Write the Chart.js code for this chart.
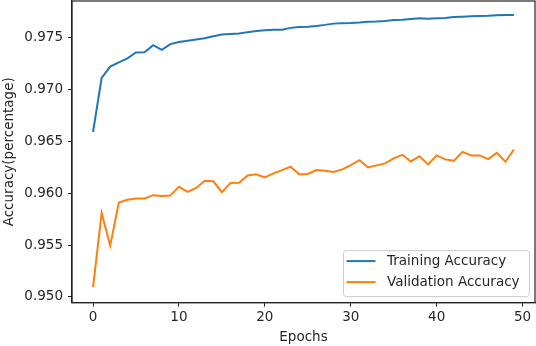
<!DOCTYPE html>
<html>
<head>
<meta charset="utf-8">
<script src="https://cdn.jsdelivr.net/npm/chart.js@4/dist/chart.umd.min.js"></script>
<style>
  html, body { margin: 0; padding: 0; background: #fff; }
  #wrap { width: 536px; height: 346px; }
</style>
</head>
<body>
<div id="wrap"><canvas id="accChart" width="536" height="346"></canvas></div>
<script>
const epochs = Array.from({length: 50}, (_, i) => i)

const trainingAccuracy = [
  0.9659, 0.9711, 0.9722, 0.9726, 0.9730, 0.97356, 0.97358, 0.97427, 0.97382, 0.97437,
  0.97456, 0.97468, 0.97481, 0.97494, 0.97513, 0.97529, 0.97535, 0.97538, 0.97552, 0.97564,
  0.97571, 0.97574, 0.97576, 0.97593, 0.97602, 0.97603, 0.97612, 0.97622, 0.97634, 0.97638,
  0.97639, 0.97644, 0.97653, 0.97654, 0.97660, 0.97670, 0.97672, 0.97679, 0.97686, 0.97682,
  0.97686, 0.97689, 0.97698, 0.97701, 0.97705, 0.97708, 0.97709, 0.97714, 0.97717, 0.97718
]

const validationAccuracy = [
  0.95096, 0.95808, 0.95495, 0.95910, 0.95936, 0.95948, 0.95949, 0.95981, 0.95974, 0.95977,
  0.96063, 0.96012, 0.96051, 0.96121, 0.96115, 0.96010, 0.96099, 0.96100, 0.96170, 0.96182,
  0.96153, 0.96191, 0.96223, 0.96255, 0.96182, 0.96185, 0.96223, 0.96216, 0.96204, 0.96230,
  0.96271, 0.96319, 0.96249, 0.96268, 0.96287, 0.96335, 0.96370, 0.96306, 0.96357, 0.96278,
  0.96364, 0.96326, 0.96312, 0.96398, 0.96364, 0.96364, 0.96329, 0.96389, 0.96303, 0.96421
]

const seriesLabels = ["Training Accuracy", "Validation Accuracy"]
const xTicks = [0, 10, 20, 30, 40, 50]
const yTicks = [0.950, 0.955, 0.960, 0.965, 0.970, 0.975]
const yTickLabels = ["0.950", "0.955", "0.960", "0.965", "0.970", "0.975"]

const FONT = "'DejaVu Sans', sans-serif"
const TEXT_COLOR = "#262626"

// frame on all four sides + matplotlib style legend in the lower right
const framePlugin = {
    id: "frame",
    afterDraw(chart){
        const {ctx, chartArea: a} = chart
        ctx.save()
        ctx.strokeStyle = "#222"
        ctx.lineWidth = 1.2
        ctx.strokeRect(a.left, a.top, a.right - a.left, a.bottom - a.top)

        const boxW = 186, boxH = 46
        const bx = a.right - 6 - boxW, by = a.bottom - 6.5 - boxH
        ctx.beginPath()
        ctx.roundRect(bx + 0.5, by + 0.5, boxW, boxH, 3)
        ctx.fillStyle = "rgba(255,255,255,0.8)"
        ctx.fill()
        ctx.strokeStyle = "#cccccc"
        ctx.lineWidth = 1
        ctx.stroke()

        ctx.font = `13.5px ${FONT}`
        ctx.textBaseline = "middle"
        ctx.textAlign = "left"
        chart.data.datasets.forEach((ds, i) => {
            const rowY = by + 11 + i * 21
            ctx.beginPath()
            ctx.moveTo(bx + 3.5, rowY)
            ctx.lineTo(bx + 32.5, rowY)
            ctx.strokeStyle = ds.borderColor
            ctx.lineWidth = 2
            ctx.stroke()
            ctx.fillStyle = TEXT_COLOR
            ctx.fillText(ds.label, bx + 44, rowY)
        })
        ctx.restore()
    }
}

const ctx = document.getElementById("accChart")
new Chart(ctx, {
    type: "line",
    data: {
        datasets: [
            {
                label: seriesLabels[0],
                data: epochs.map((e, i) => ({x: e, y: trainingAccuracy[i]})),
                borderColor: "#1f77b4",
                borderWidth: 2,
                pointRadius: 0,
                tension: 0
            },
            {
                label: seriesLabels[1],
                data: epochs.map((e, i) => ({x: e, y: validationAccuracy[i]})),
                borderColor: "#ff7f0e",
                borderWidth: 2,
                pointRadius: 0,
                tension: 0
            }
        ]
    },
    options: {
        responsive: false,
        animation: false,
        layout: { padding: { top: 1, right: 1, left: 0, bottom: 0 } },
        plugins: {
            legend: { display: false },
            tooltip: { enabled: false }
        },
        scales: {
            x: {
                type: "linear",
                min: -2.45,
                max: 51.45,
                afterBuildTicks: s => { s.ticks = xTicks.map(v => ({value: v})) },
                afterFit: s => { s.height = 43.4; s.paddingLeft = 0; s.paddingRight = 0 },
                grid: { drawOnChartArea: false, drawTicks: true, tickLength: 4, tickColor: "#222", tickWidth: 1 },
                border: { display: true, color: "#222", width: 1.2 },
                ticks: {
                    font: { family: FONT, size: 13.5 },
                    color: TEXT_COLOR,
                    padding: 3,
                    maxRotation: 0,
                    callback: v => String(v)
                },
                title: {
                    display: true,
                    text: "Epochs",
                    font: { family: FONT, size: 13.5 },
                    color: TEXT_COLOR,
                    padding: { top: 0, bottom: 0 }
                }
            },
            y: {
                type: "linear",
                min: 0.94946,
                max: 0.97852,
                afterBuildTicks: s => { s.ticks = yTicks.map(v => ({value: v})) },
                afterFit: s => { s.width = 72; s.paddingTop = 0; s.paddingBottom = 0 },
                grid: { drawOnChartArea: false, drawTicks: true, tickLength: 4, tickColor: "#222", tickWidth: 1 },
                border: { display: true, color: "#222", width: 1.2 },
                ticks: {
                    font: { family: FONT, size: 13.5 },
                    color: TEXT_COLOR,
                    padding: 5,
                    callback: v => yTickLabels[yTicks.findIndex(t => Math.abs(t - v) < 1e-9)] ?? ""
                },
                title: {
                    display: true,
                    text: "Accuracy(percentage)",
                    font: { family: FONT, size: 13.5 },
                    color: TEXT_COLOR,
                    padding: { top: 1, bottom: 0 }
                }
            }
        }
    },
    plugins: [framePlugin]
})
</script>
</body>
</html>
